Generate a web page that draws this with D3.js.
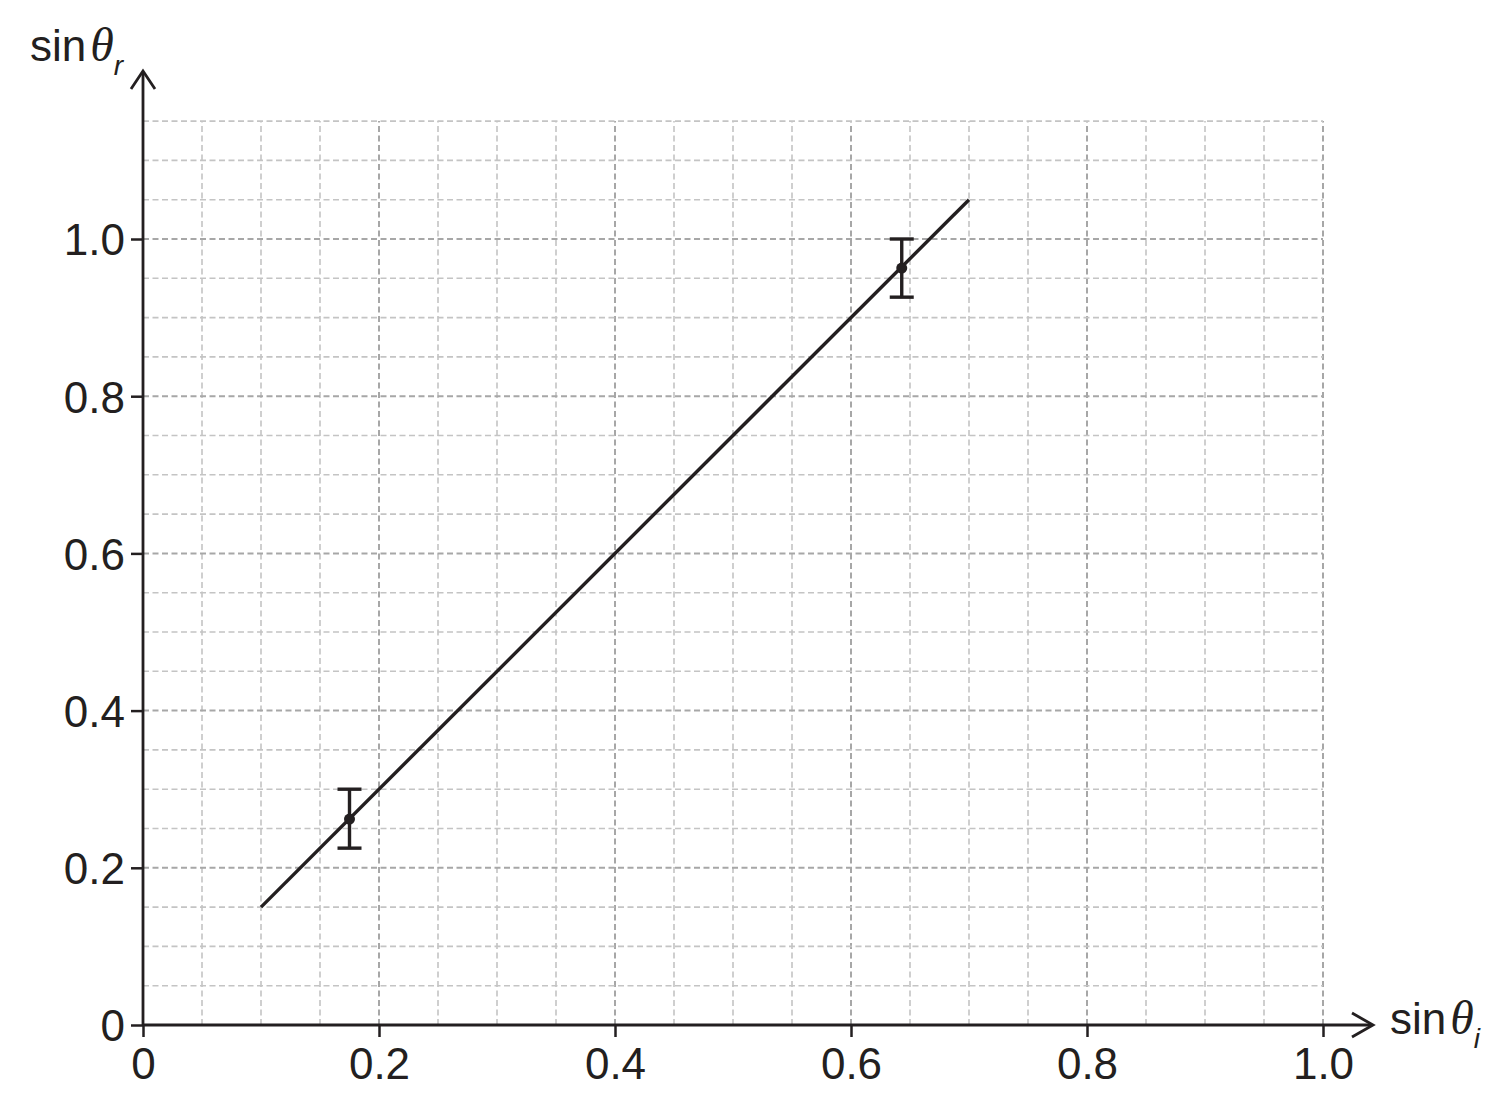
<!DOCTYPE html>
<style>
body { margin: 0; background: #fff; }
text { font-family: "Liberation Sans", Arial, sans-serif; fill: #231f20; }
</style>
<svg width="1512" height="1108"></svg>
<script src="https://d3js.org/d3.v7.min.js"></script>
<script>

// best-fit line end points (sin θi, sin θr)
var fitLine = [[0.1, 0.15], [0.7, 1.05]];

// measured points with error bars
var pointX = [0.175, 0.643];
var pointY = [0.262, 0.963];
var errLow = [0.225, 0.926];
var errHigh = [0.300, 1.000];

var tickValues = [0, 0.2, 0.4, 0.6, 0.8, 1.0];
var tickLabels = ["0", "0.2", "0.4", "0.6", "0.8", "1.0"];

var svg = d3.select("svg");
var ink = "#231f20";

var x = d3.scaleLinear().domain([0, 1]).range([143, 1323]);
var y = d3.scaleLinear().domain([0, 1]).range([1025, 239]);

// grid every 0.05, major every 0.2
var gx = d3.range(0, 21).map(function(i) { return i * 0.05; });
var gy = d3.range(0, 24).map(function(i) { return i * 0.05; });
var isMajor = function(v) { return Math.abs(v / 0.2 - Math.round(v / 0.2)) < 1e-6; };

var grid = svg.append("g")
    .attr("fill", "none")
    .attr("stroke-dasharray", "6,3.5");

grid.selectAll("line.v")
  .data(gx.slice(1))
  .enter().append("line")
    .attr("class", "v")
    .attr("x1", function(d) { return x(d); })
    .attr("x2", function(d) { return x(d); })
    .attr("y1", y(0))
    .attr("y2", y(1.15))
    .attr("stroke", function(d) { return isMajor(d) ? "#a7a7a7" : "#c4c4c4"; })
    .attr("stroke-width", function(d) { return isMajor(d) ? 2 : 1.6; });

grid.selectAll("line.h")
  .data(gy.slice(1))
  .enter().append("line")
    .attr("class", "h")
    .attr("x1", x(0))
    .attr("x2", x(1))
    .attr("y1", function(d) { return y(d); })
    .attr("y2", function(d) { return y(d); })
    .attr("stroke", function(d) { return isMajor(d) ? "#a7a7a7" : "#c4c4c4"; })
    .attr("stroke-width", function(d) { return isMajor(d) ? 2 : 1.6; });

// axes
var xAxis = svg.append("g")
    .attr("transform", "translate(0," + y(0) + ")")
    .call(d3.axisBottom(x).tickValues(tickValues).tickSize(12).tickPadding(9)
      .tickFormat(function(d, i) { return tickLabels[i]; }));

var yAxis = svg.append("g")
    .attr("transform", "translate(" + x(0) + ",0)")
    .call(d3.axisLeft(y).tickValues(tickValues).tickSize(12).tickPadding(6)
      .tickFormat(function(d, i) { return tickLabels[i]; }));

[xAxis, yAxis].forEach(function(a) {
  a.select(".domain").remove();
  a.selectAll(".tick line").attr("stroke", ink).attr("stroke-width", 2.5);
  a.selectAll(".tick text")
      .attr("font-size", 44)
      .attr("font-family", "Liberation Sans, Arial, sans-serif")
      .attr("fill", ink);
});
xAxis.selectAll(".tick text").attr("dy", "0.75em");
yAxis.selectAll(".tick text").attr("dy", "0.36em");

// axis lines with arrow heads
svg.append("line")
    .attr("x1", x(0)).attr("x2", 1372)
    .attr("y1", y(0)).attr("y2", y(0))
    .attr("stroke", ink).attr("stroke-width", 2.8);
svg.append("path")
    .attr("d", "M1352," + (y(0) - 12) + "L1373," + y(0) + "L1352," + (y(0) + 12))
    .attr("fill", "none").attr("stroke", ink).attr("stroke-width", 2.8);

svg.append("line")
    .attr("x1", x(0)).attr("x2", x(0))
    .attr("y1", y(0)).attr("y2", 72)
    .attr("stroke", ink).attr("stroke-width", 2.8);
svg.append("path")
    .attr("d", "M" + (x(0) - 12) + ",89L" + x(0) + ",71L" + (x(0) + 12) + ",89")
    .attr("fill", "none").attr("stroke", ink).attr("stroke-width", 2.8);

// axis titles
var yt = svg.append("text").attr("x", 30).attr("y", 61).attr("font-size", 44);
yt.append("tspan").text("sin");
yt.append("tspan").attr("dx", 4).attr("font-style", "italic").attr("font-family", "Liberation Serif, serif").attr("font-size", 48).text("θ");
yt.append("tspan").attr("dy", 14).attr("font-style", "italic").attr("font-size", 28).text("r");

var xt = svg.append("text").attr("x", 1390).attr("y", 1034).attr("font-size", 44);
xt.append("tspan").text("sin");
xt.append("tspan").attr("dx", 4).attr("font-style", "italic").attr("font-family", "Liberation Serif, serif").attr("font-size", 48).text("θ");
xt.append("tspan").attr("dy", 14).attr("font-style", "italic").attr("font-size", 28).text("i");

// best-fit line
svg.append("path")
    .datum(fitLine)
    .attr("d", d3.line().x(function(d) { return x(d[0]); }).y(function(d) { return y(d[1]); }))
    .attr("fill", "none")
    .attr("stroke", ink)
    .attr("stroke-width", 3.4);

// error bars and points
var pts = pointX.map(function(v, i) { return {x: v, y: pointY[i], lo: errLow[i], hi: errHigh[i]}; });

var eb = svg.append("g")
    .attr("stroke", ink)
    .attr("stroke-width", 3.4)
  .selectAll("g")
  .data(pts)
  .enter().append("g");

eb.append("line")
    .attr("x1", function(d) { return x(d.x); })
    .attr("x2", function(d) { return x(d.x); })
    .attr("y1", function(d) { return y(d.lo); })
    .attr("y2", function(d) { return y(d.hi); });
eb.append("line")
    .attr("x1", function(d) { return x(d.x) - 12; })
    .attr("x2", function(d) { return x(d.x) + 12; })
    .attr("y1", function(d) { return y(d.hi); })
    .attr("y2", function(d) { return y(d.hi); });
eb.append("line")
    .attr("x1", function(d) { return x(d.x) - 12; })
    .attr("x2", function(d) { return x(d.x) + 12; })
    .attr("y1", function(d) { return y(d.lo); })
    .attr("y2", function(d) { return y(d.lo); });
eb.append("circle")
    .attr("cx", function(d) { return x(d.x); })
    .attr("cy", function(d) { return y(d.y); })
    .attr("r", 5.5)
    .attr("fill", ink)
    .attr("stroke", "none");

</script>
